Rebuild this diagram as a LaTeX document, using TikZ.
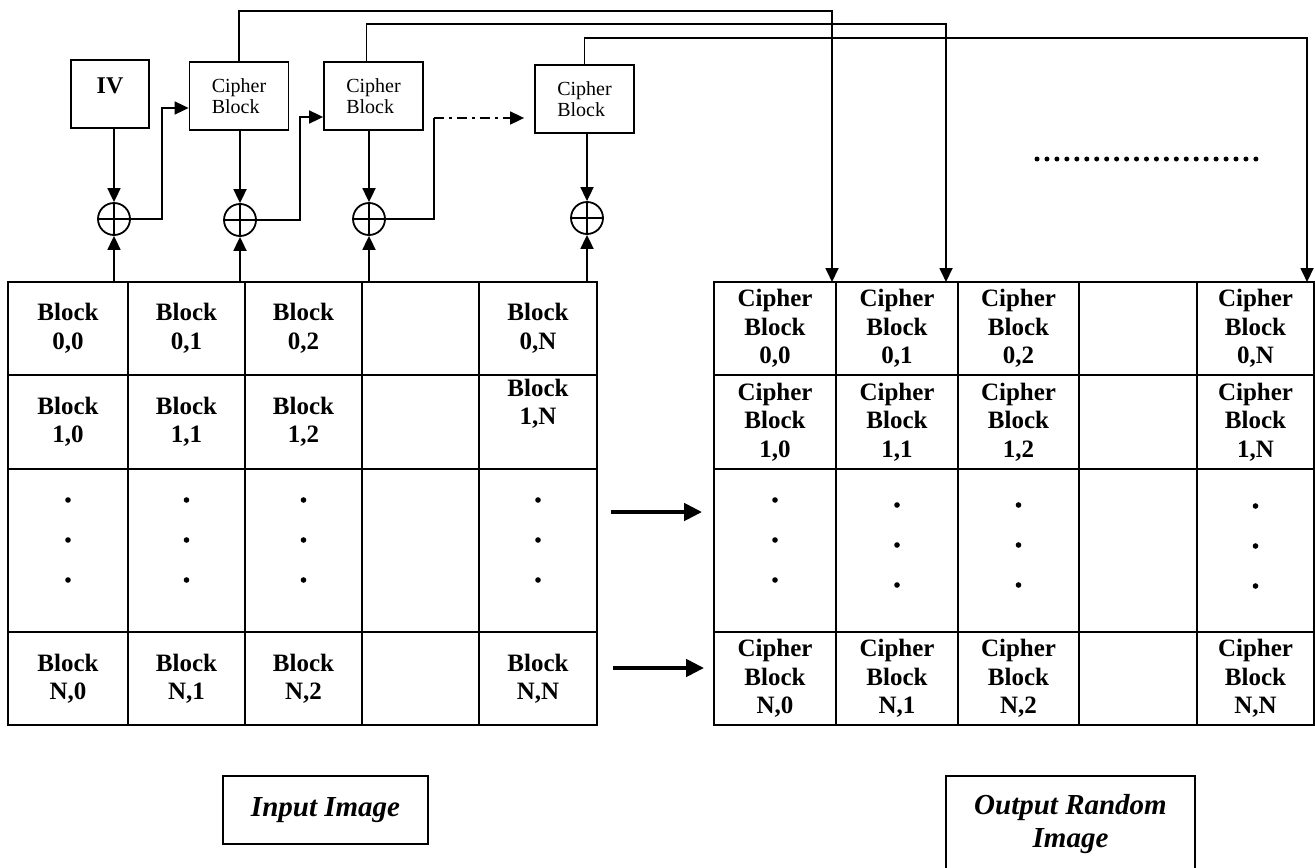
\documentclass[tikz,border=0pt]{standalone}
\usepackage{fontspec}
\setmainfont{Liberation Serif}
\usetikzlibrary{arrows.meta}

\tikzset{
  wire/.style={line width=0.9pt},
  arr/.style={wire,-{Triangle[length=7pt,width=6.5pt]}},
  bigarr/.style={line width=2.2pt,-{Triangle[length=9pt,width=8.5pt]}},
  blockbox/.style={draw,line width=0.9pt,inner sep=0pt},
  cipherbox/.style={blockbox,minimum width=49.5pt,minimum height=34pt,align=left,
    font={\fontsize{10}{10.5}\selectfont}},
  xorop/.style={circle,draw,line width=0.9pt,minimum size=16pt,inner sep=0pt,
    path picture={\draw[line width=1.2pt]
      (path picture bounding box.north) -- (path picture bounding box.south)
      (path picture bounding box.west) -- (path picture bounding box.east);}},
  celltext/.style={font={\fontsize{12.5}{14.25}\selectfont\bfseries},align=center,inner sep=0pt},
  captext/.style={font={\fontsize{14.5}{16.5}\selectfont\bfseries\itshape},align=center},
}

\begin{document}
\begin{tikzpicture}[x=0.5pt,y=-0.5pt]
\useasboundingbox (0,0) rectangle (1315,867);
\clip (0,0) rectangle (1315,867);

% IV and the chain of cipher blocks
\node[blockbox,minimum width=39pt,minimum height=34pt,text height=8pt,text depth=9pt,
  font={\fontsize{12}{14}\selectfont\bfseries}] (iv) at (110,94) {IV};
\node[cipherbox] (cb1) at (239,96) {Cipher\\Block};
\node[cipherbox] (cb2) at (373.5,96) {Cipher\\Block};
\node[cipherbox] (cbn) at (584.5,99) {Cipher\\Block};

% XOR gates
\node[xorop] (xor0) at (114,219) {};
\node[xorop] (xor1) at (240,220) {};
\node[xorop] (xor2) at (369,219) {};
\node[xorop] (xorn) at (587,218) {};

% Input image grid
\node[blockbox,minimum width=294.5pt,minimum height=221.5pt] (ingrid) at (302.5,503.5) {};
\foreach \x in {128,245,362,479} \draw[wire] (\x,282) -- (\x,725);
\foreach \y in {375,469,632} \draw[wire] (8,\y) -- (597,\y);

\foreach \x/\c in {68/0,186.5/1,303.5/2,538/N} {
  \node[celltext] (in-0-\c) at (\x,328.5) {Block\\0,\c};
  \node[celltext] (in-N-\c) at (\x,678.5) {Block\\N,\c};
  \foreach \y in {500,540,580} \fill (\x,\y) circle (1.4pt);
}
\foreach \x/\c in {68/0,186.5/1,303.5/2}
  \node[celltext] (in-1-\c) at (\x,422) {Block\\1,\c};
\node[celltext] (in-1-N) at (538,404) {Block\\1,N};

% Output image grid
\node[blockbox,minimum width=300pt,minimum height=221.5pt] (outgrid) at (1014,503.5) {};
\foreach \x in {836,958,1079,1197} \draw[wire] (\x,282) -- (\x,725);
\foreach \y in {375,469,632} \draw[wire] (714,\y) -- (1314,\y);

\foreach \x/\c/\d in {775/0/0,897/1/5,1018.5/2/5,1255.5/N/6} {
  \node[celltext] (out-0-\c) at (\x,328.5) {Cipher\\Block\\0,\c};
  \node[celltext] (out-1-\c) at (\x,422) {Cipher\\Block\\1,\c};
  \node[celltext] (out-N-\c) at (\x,678.5) {Cipher\\Block\\N,\c};
  \foreach \y in {500,540,580} \fill (\x,\y+\d) circle (1.4pt);
}

% plaintext blocks into the XORs
\foreach \g in {xor0,xor1,xor2,xorn} \draw[arr] (\g |- ingrid.north) -- (\g);

% IV / cipher outputs into the XORs
\draw[arr] (iv.south -| xor0) -- (xor0);
\draw[arr] (cb1.south -| xor1) -- (xor1);
\draw[arr] (cb2.south -| xor2) -- (xor2);
\draw[arr] (cbn.south -| xorn) -- (xorn);

% XOR results on to the next cipher block
\draw[arr] (xor0.east) -- ++(31,0) |- ([yshift=-6pt]cb1.west);
\draw[arr] (xor1.east) -- ++(43,0) |- ([yshift=-10.5pt]cb2.west);
\draw[wire] (xor2.east) -- ++(48,0) -- ++(0,-101) coordinate (f2);
\draw[arr,dash pattern=on 5pt off 2.5pt on 1.5pt off 2.5pt,shorten >=5pt] (f2) -- (cbn.west |- f2);

% cipher blocks written to the output grid
\coordinate (o1) at (832,282);
\coordinate (o2) at (946,282);
\coordinate (on) at (1307,282);
\draw[arr] (cb1.north) -- ++(0,-50) -| (o1);
\draw[arr] ([xshift=-3.5pt]cb2.north) -- ++(0,-37) -| (o2);
\draw[arr] (cbn.north) -- ++(0,-26) -| (on);

% and so on for the remaining blocks
\foreach \i in {0,...,22} \fill (1037+\i*9.95,159) circle (1.25pt);

% input to output
\draw[bigarr,shorten <=6.5pt,shorten >=5.5pt] (ingrid.east |- 0,512) -- (outgrid.west |- 0,512);
\draw[bigarr,shorten <=7.5pt,shorten >=4.5pt] (ingrid.east |- 0,668) -- (outgrid.west |- 0,668);

% captions
\node[blockbox,captext,minimum width=102.5pt,minimum height=34pt] (inlabel) at (325.5,810) {Input Image};
\node[blockbox,captext,minimum width=124.5pt,minimum height=48.5pt] (outlabel) at (1070.5,824.5) {Output Random\\Image};
\end{tikzpicture}
\end{document}
